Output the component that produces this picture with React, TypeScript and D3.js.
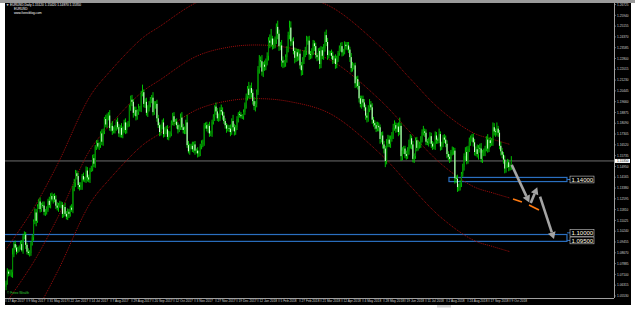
import React from 'react';
import * as d3 from 'd3';

const W = 635;
const H = 314;

// Daily closes, in pips above 1.0000 (EURUSD, 17 Apr 2017 -> 10 Oct 2018)
const firstOpen = 620;
const closes: number[] = [
  // Apr 2017
  645, 730, 715, 715, 725, 855, 930, 905, 875, 895,
  // May 2017
  905, 930, 885, 985, 998, 925, 875, 865, 865, 935, 980, 1095, 1160, 1100, 1205, 1240, 1185, 1215, 1210, 1165, 1165, 1180, 1245,
  // Jun 2017
  1215, 1280, 1255, 1280, 1255, 1210, 1195, 1210, 1210, 1215, 1150, 1200, 1150, 1130, 1165, 1150, 1195, 1180, 1335, 1375, 1445, 1425,
  // Jul 2017
  1360, 1345, 1350, 1425, 1400, 1400, 1465, 1415, 1400, 1470, 1480, 1555, 1515, 1635, 1665, 1640, 1650, 1735, 1675, 1750, 1840,
  // Aug 2017
  1800, 1860, 1865, 1775, 1790, 1755, 1760, 1775, 1820, 1780, 1735, 1775, 1725, 1760, 1815, 1760, 1800, 1800, 1925, 1980, 1965, 1885, 1905,
  // Sep 2017
  1860, 1890, 1920, 1920, 2025, 2035, 1950, 1965, 1885, 1920, 1945, 1985, 1995, 1890, 1945, 1950, 1845, 1795, 1745, 1785, 1815,
  // Oct 2017
  1730, 1760, 1765, 1710, 1735, 1735, 1810, 1860, 1820, 1820, 1795, 1765, 1785, 1850, 1780, 1760, 1765, 1815, 1650, 1605, 1640, 1645,
  // Nov 2017
  1620, 1655, 1610, 1610, 1590, 1590, 1645, 1665, 1665, 1795, 1795, 1770, 1790, 1735, 1735, 1820, 1855, 1930, 1895, 1845, 1845, 1905,
  // Dec 2017
  1895, 1865, 1825, 1795, 1770, 1775, 1770, 1745, 1825, 1780, 1750, 1780, 1840, 1875, 1870, 1860, 1860, 1890, 1945, 2005,
  // Jan 2018
  2060, 2015, 2065, 2030, 1970, 1935, 1950, 2035, 2200, 2265, 2260, 2185, 2235, 2220, 2260, 2300, 2410, 2395, 2425, 2380, 2395, 2415,
  // Feb 2018
  2510, 2460, 2370, 2375, 2265, 2250, 2250, 2290, 2350, 2450, 2505, 2405, 2405, 2335, 2285, 2325, 2295, 2315, 2230, 2195,
  // Mar 2018
  2270, 2315, 2335, 2405, 2410, 2310, 2305, 2335, 2390, 2370, 2305, 2290, 2335, 2240, 2340, 2300, 2355, 2450, 2400, 2305, 2320, 2320,
  // Apr 2018
  2300, 2270, 2280, 2240, 2280, 2320, 2355, 2370, 2325, 2330, 2380, 2370, 2375, 2345, 2290, 2210, 2230, 2230, 2100, 2130, 2080,
  // May 2018
  1990, 1950, 1985, 1960, 1925, 1865, 1850, 1915, 1945, 1925, 1835, 1810, 1795, 1770, 1790, 1780, 1695, 1720, 1655, 1625, 1535, 1665, 1690,
  // Jun 2018
  1660, 1695, 1720, 1775, 1795, 1770, 1785, 1745, 1790, 1570, 1610, 1625, 1585, 1570, 1605, 1655, 1700, 1655, 1550, 1570, 1685,
  // Jul 2018
  1630, 1655, 1655, 1690, 1745, 1750, 1740, 1675, 1670, 1685, 1715, 1660, 1640, 1640, 1720, 1690, 1685, 1730, 1640, 1655, 1705, 1690,
  // Aug 2018
  1660, 1585, 1565, 1550, 1600, 1610, 1610, 1410, 1405, 1345, 1345, 1375, 1440, 1490, 1570, 1600, 1535, 1625, 1675, 1700, 1705, 1670, 1600,
  // Sep 2018
  1620, 1585, 1630, 1625, 1550, 1595, 1600, 1625, 1690, 1625, 1685, 1665, 1670, 1780, 1750, 1745, 1770, 1740, 1645, 1605,
  // Oct 2018
  1580, 1545, 1480, 1510, 1525, 1490, 1490, 1535,
];

// upper wick beyond the body, pips
const hiWick: number[] = [
  20, 25, 15, 30, 20, 45, 15, 25, 20, 15,
  15, 25, 30, 20, 25, 20, 15, 25, 20, 15, 20, 15, 30, 25, 15, 20, 30, 15, 25, 30, 20, 25, 15,
  30, 20, 25, 15, 20, 30, 25, 20, 35, 25, 20, 15, 30, 20, 25, 20, 15, 25, 20, 30, 25, 20,
  25, 20, 30, 15, 25, 20, 30, 25, 20, 15, 20, 25, 30, 15, 20, 25, 20, 15, 30, 20, 15,
  30, 20, 25, 40, 20, 35, 25, 20, 15, 30, 25, 20, 35, 25, 20, 30, 15, 25, 20, 30, 35, 20, 25,
  25, 20, 30, 15, 20, 55, 20, 25, 30, 20, 25, 15, 20, 40, 25, 20, 30, 25, 20, 15, 20,
  30, 20, 25, 30, 20, 15, 20, 25, 30, 20, 25, 20, 15, 30, 40, 25, 20, 20, 55, 30, 20, 15,
  30, 20, 25, 15, 25, 20, 15, 20, 25, 15, 20, 25, 15, 30, 20, 15, 20, 10, 30, 25, 35, 20,
  40, 30, 25, 20, 15, 25, 20, 30, 20, 45, 25, 15, 20, 15, 25, 20, 15, 20, 15, 20,
  20, 50, 20, 40, 25, 30, 20, 20, 25, 40, 30, 45, 20, 30, 20, 25, 25, 45, 70, 20, 30, 25,
  25, 45, 30, 25, 40, 30, 20, 20, 20, 25, 50, 45, 20, 30, 25, 30, 25, 35, 30, 25,
  20, 25, 30, 40, 30, 35, 25, 20, 25, 20, 25, 15, 20, 25, 30, 25, 30, 25, 40, 30, 20, 15,
  25, 30, 20, 30, 20, 15, 20, 25, 30, 20, 25, 20, 25, 25, 20, 30, 25, 15, 20, 20, 25,
  30, 20, 25, 25, 25, 20, 20, 25, 40, 25, 30, 20, 20, 25, 30, 25, 20, 25, 30, 25, 20, 30, 35,
  30, 25, 25, 30, 35, 20, 25, 30, 60, 20, 25, 20, 20, 25, 30, 35, 30, 20, 25, 20, 20,
  25, 30, 20, 25, 20, 40, 20, 25, 20, 20, 30, 25, 20, 30, 30, 25, 15, 40, 20, 20, 20, 25,
  30, 25, 20, 20, 15, 30, 25, 20, 20, 30, 25, 20, 15, 25, 20, 35, 40, 20, 30, 20, 25, 30, 25,
  20, 35, 20, 30, 40, 20, 25, 20, 25, 40, 20, 25, 30, 35, 30, 20, 45, 20, 20, 30,
  25, 20, 30, 20, 25, 20, 20, 35,
];

// lower wick beyond the body, pips
const loWick: number[] = [
  25, 10, 20, 15, 25, 40, 20, 15, 20, 10,
  20, 15, 10, 25, 20, 30, 20, 15, 25, 20, 15, 25, 20, 40, 15, 20, 25, 20, 15, 25, 30, 20, 15,
  20, 25, 15, 30, 20, 25, 20, 30, 15, 20, 30, 25, 15, 20, 25, 30, 20, 15, 25, 20, 30, 25,
  30, 25, 20, 25, 15, 20, 25, 30, 20, 25, 15, 20, 25, 30, 20, 15, 25, 20, 25, 30, 20,
  20, 25, 30, 20, 25, 30, 20, 25, 20, 15, 25, 30, 20, 25, 20, 30, 25, 20, 15, 25, 30, 35, 20,
  30, 25, 20, 25, 30, 20, 25, 30, 20, 30, 25, 20, 30, 25, 20, 30, 25, 20, 30, 25, 20,
  25, 20, 30, 20, 25, 30, 20, 15, 30, 20, 25, 30, 20, 25, 20, 25, 30, 35, 20, 15, 25, 20,
  20, 25, 30, 20, 30, 25, 20, 25, 30, 20, 25, 20, 30, 25, 20, 25, 20, 30, 25, 20, 25, 20,
  25, 30, 20, 25, 30, 20, 25, 30, 20, 25, 30, 25, 20, 25, 20, 15, 20, 25, 20, 30,
  30, 25, 30, 35, 25, 30, 40, 25, 20, 30, 45, 30, 40, 30, 25, 30, 35, 40, 30, 35, 30, 40,
  30, 40, 35, 30, 45, 40, 35, 30, 40, 25, 30, 35, 30, 25, 40, 30, 35, 30, 25, 40,
  35, 30, 25, 30, 25, 40, 30, 25, 30, 35, 25, 30, 25, 35, 30, 25, 30, 25, 30, 35, 25, 20,
  25, 30, 25, 35, 30, 25, 20, 25, 30, 25, 20, 25, 30, 25, 35, 30, 25, 30, 35, 30, 25,
  30, 25, 35, 30, 25, 30, 35, 30, 25, 20, 30, 25, 30, 25, 20, 30, 35, 25, 30, 35, 45, 25, 30,
  25, 30, 20, 25, 20, 30, 25, 30, 20, 35, 30, 25, 30, 25, 20, 25, 30, 35, 25, 30, 20,
  25, 20, 30, 25, 20, 25, 30, 25, 20, 30, 25, 30, 25, 20, 25, 30, 25, 20, 30, 25, 20, 25,
  25, 30, 25, 30, 20, 25, 30, 40, 30, 35, 30, 25, 30, 20, 25, 30, 25, 20, 25, 30, 25, 30, 25,
  30, 25, 40, 30, 25, 30, 25, 30, 20, 30, 25, 30, 20, 25, 30, 35, 25, 30, 25, 30,
  25, 30, 35, 30, 25, 30, 25, 20,
];

// date axis labels, one every 16 bars
const dateLabels = [
  '17 Apr 2017', '9 May 2017', '31 May 2017', '22 Jun 2017', '14 Jul 2017', '7 Aug 2017',
  '29 Aug 2017', '20 Sep 2017', '12 Oct 2017', '3 Nov 2017', '27 Nov 2017', '19 Dec 2017',
  '12 Jan 2018', '5 Feb 2018', '27 Feb 2018', '21 Mar 2018', '12 Apr 2018', '4 May 2018',
  '28 May 2018', '19 Jun 2018', '11 Jul 2018', '2 Aug 2018', '24 Aug 2018', '17 Sep 2018', '9 Oct 2018',
];
const dateStep = 16;

// price axis labels
const priceTicks = [
  1.0553, 1.06315, 1.071, 1.07885, 1.0867, 1.09455, 1.1024, 1.11025, 1.1181, 1.12595,
  1.1338, 1.14165, 1.1495, 1.15735, 1.1652, 1.17305, 1.1809, 1.18875, 1.1966, 1.20445,
  1.2123, 1.22015, 1.228, 1.23585, 1.2437, 1.25155, 1.2594, 1.26725,
];

// regression channel (dotted red): [bar index, price]
const channelMid: [number, number][] = [
  [0, 1.0502], [20.6, 1.0793], [39.6, 1.1127], [64, 1.1615], [79.2, 1.1796], [103.6, 1.2036],
  [117.3, 1.2124], [145.5, 1.2298], [170.7, 1.2364], [193.5, 1.2378], [216.4, 1.2356],
  [246.9, 1.2269], [285, 1.1978], [307.8, 1.1745], [330.7, 1.152], [355.8, 1.1350],
  [371, 1.1302], [384, 1.1265],
];
const channelUpper: [number, number][] = [
  [0, 1.0892], [20.6, 1.1183], [39.6, 1.1517], [64, 1.2005], [79.2, 1.2186], [103.6, 1.2426],
  [117.3, 1.2514], [145.5, 1.2688], [170.7, 1.2754], [193.5, 1.2768], [216.4, 1.2746],
  [246.9, 1.2659], [285, 1.2368], [307.8, 1.2135], [330.7, 1.191], [355.8, 1.1740],
  [371, 1.1692], [384, 1.1655],
];
const channelLower: [number, number][] = [
  [0, 1.0112], [20.6, 1.0403], [39.6, 1.0737], [64, 1.1225], [79.2, 1.1406], [103.6, 1.1646],
  [117.3, 1.1734], [145.5, 1.1908], [170.7, 1.1974], [193.5, 1.1988], [216.4, 1.1966],
  [246.9, 1.1879], [285, 1.1588], [307.8, 1.1355], [330.7, 1.113], [355.8, 1.0960],
  [371, 1.0912], [384, 1.0875],
];

// drawn levels and annotations: [bar index, price]
const zone114: [number, number, number, number] = [337.5, 1.1415, 427.4, 1.1385];
const zone110: [number, number, number, number] = [-10, 1.1, 427.4, 1.095];
const levelLabels = [
  { text: '1.14000', price: 1.14 },
  { text: '1.10000', price: 1.1012 },
  { text: '1.09500', price: 1.0957 },
];
const orangeSegments: [number, number][][] = [
  [[386.3, 1.1258], [393.1, 1.1236]],
  [[398.5, 1.1215], [406.1, 1.1178]],
];
const arrows: [number, number][][] = [
  [[385.3, 1.1506], [398.7, 1.1233]],
  [[399.8, 1.1229], [404.8, 1.1343]],
  [[406.9, 1.1275], [417.5, 1.0967]],
];

const bidPrice = 1.1535;
const headerLines = ['EURUSD,Daily  1.15120 1.15420 1.14870 1.15350', 'EURUSD', 'www.forexblog.com'];
const footerText = '© Forex Wealth';

const PL = 5, PR = 614, PT = 3, PB = 298;

export default function App() {
  const x = d3.scaleLinear().domain([0, 384]).range([6, 510]);
  const y = d3.scaleLinear().domain([1.10, 1.14]).range([234.5, 179.5]);
  const px = (v: number) => 1 + v / 10000;
  const pip = 0.0001;

  const candles = closes.map((c, i) => {
    const o = i === 0 ? px(firstOpen) : px(closes[i - 1]);
    const cl = px(c);
    const h = Math.max(o, cl) + (hiWick[i] ?? 20) * pip;
    const l = Math.min(o, cl) - (loWick[i] ?? 20) * pip;
    return { i, o, c: cl, h, l };
  });

  const curve = d3
    .line<[number, number]>()
    .x((d) => x(d[0]))
    .y((d) => y(d[1]))
    .curve(d3.curveCatmullRom.alpha(0.5));
  const straight = d3
    .line<[number, number]>()
    .x((d) => x(d[0]))
    .y((d) => y(d[1]));

  const arrowHead = (a: [number, number], b: [number, number]) => {
    const x1 = x(a[0]), y1 = y(a[1]), x2 = x(b[0]), y2 = y(b[1]);
    const ang = Math.atan2(y2 - y1, x2 - x1);
    const len = 7, wd = 4;
    const bx = x2 - len * Math.cos(ang), by = y2 - len * Math.sin(ang);
    const nx = -Math.sin(ang), ny = Math.cos(ang);
    return {
      shaft: `M${x1},${y1}L${bx},${by}`,
      head: `M${x2},${y2}L${bx + nx * wd},${by + ny * wd}L${bx - nx * wd},${by - ny * wd}Z`,
    };
  };

  const font = 'Liberation Sans, Arial, sans-serif';
  const small = 3.2;

  return (
    <div style={{ position: 'fixed', left: 0, top: 0 }}>
      <svg width={W} height={H} style={{ display: 'block' }}>
        <defs>
          <clipPath id="plot">
            <rect x={PL} y={PT} width={PR - PL} height={PB - PT} />
          </clipPath>
        </defs>
        <rect x={0} y={0} width={W} height={H} fill="#ffffff" />
        <rect x={0} y={0} width={W} height={3} fill="#9a9a9a" />
        <rect x={PL} y={PT} width={631 - PL} height={305 - PT} fill="#000000" />
        <rect x={437} y={305} width={14} height={2.5} fill="#d4d4d4" />

        <g clipPath="url(#plot)">
          <rect
            x={x(zone110[0])}
            y={y(zone110[1])}
            width={x(zone110[2]) - x(zone110[0])}
            height={y(zone110[3]) - y(zone110[1])}
            fill="none"
            stroke="#2a6fc0"
            strokeWidth={1.2}
          />
          <rect
            x={x(zone114[0])}
            y={y(zone114[1])}
            width={x(zone114[2]) - x(zone114[0])}
            height={y(zone114[3]) - y(zone114[1])}
            fill="none"
            stroke="#2a6fc0"
            strokeWidth={1.2}
          />
          <line x1={PL} x2={PR} y1={y(bidPrice)} y2={y(bidPrice)} stroke="#6e6e6e" strokeWidth={1} />

          {[channelUpper, channelMid, channelLower].map((b, k) => (
            <path key={k} d={curve(b) || ''} fill="none" stroke="#a00c0c" strokeWidth={1} strokeDasharray="1,1" />
          ))}

          {candles.map((d) => {
            const bull = d.c >= d.o;
            const top = y(Math.max(d.o, d.c));
            const bot = y(Math.min(d.o, d.c));
            return (
              <g key={d.i}>
                <line x1={x(d.i)} x2={x(d.i)} y1={y(d.h)} y2={y(d.l)} stroke="#00d800" strokeWidth={0.9} />
                <rect
                  x={x(d.i) - 0.55}
                  y={top}
                  width={1.1}
                  height={Math.max(0.6, bot - top)}
                  fill={bull ? '#008800' : '#d0ffd0'}
                />
              </g>
            );
          })}

          {orangeSegments.map((s, k) => (
            <path key={k} d={straight(s) || ''} stroke="#ff7a10" strokeWidth={1.6} fill="none" />
          ))}

          {arrows.map((a, k) => {
            const ah = arrowHead(a[0], a[1]);
            return (
              <g key={k}>
                <path d={ah.shaft} stroke="#a4a4a4" strokeWidth={2.6} fill="none" />
                <path d={ah.head} fill="#a4a4a4" />
              </g>
            );
          })}
        </g>

        {levelLabels.map((lb, k) => {
          const yy = y(lb.price);
          return (
            <g key={k}>
              <line x1={x(427.4)} x2={570} y1={yy} y2={yy} stroke="#2a6fc0" strokeWidth={1} />
              <rect x={570} y={yy - 3.4} width={24} height={6.8} fill="#000" stroke="#c8c8c8" strokeWidth={0.6} />
              <text x={571.5} y={yy + 2.2} fontSize={6} fill="#fff8e0" fontFamily={font}>
                {lb.text}
              </text>
            </g>
          );
        })}

        <line x1={PR + 0.5} x2={PR + 0.5} y1={PT} y2={PB} stroke="#a0a0a0" strokeWidth={1} />
        <line x1={PL} x2={PR} y1={PB + 0.5} y2={PB + 0.5} stroke="#a0a0a0" strokeWidth={1} />
        {priceTicks.map((p, k) => (
          <g key={k}>
            <line x1={PR} x2={PR + 2} y1={y(p)} y2={y(p)} stroke="#a0a0a0" strokeWidth={0.6} />
            <text x={PR + 3} y={y(p) + 1.2} fontSize={small} fill="#d0d0d0" fontFamily={font}>
              {p.toFixed(5)}
            </text>
          </g>
        ))}
        <rect x={PR + 1} y={y(bidPrice) - 2} width={15} height={4} fill="#ffffff" />
        <text x={PR + 3} y={y(bidPrice) + 1.2} fontSize={small} fill="#000" fontFamily={font}>
          {bidPrice.toFixed(5)}
        </text>
        {dateLabels.map((t, k) => {
          const xx = x(k * dateStep);
          return (
            <g key={k}>
              <line x1={xx} x2={xx} y1={PB} y2={PB + 4} stroke="#a0a0a0" strokeWidth={0.6} />
              <text x={xx + 1.5} y={PB + 4} fontSize={small} fill="#d0d0d0" fontFamily={font}>
                {t}
              </text>
            </g>
          );
        })}

        <text x={6} y={6} fontSize={small} fill="#ffffff" fontFamily={font}>
          {'▼ ' + headerLines[0]}
        </text>
        <text x={14} y={10} fontSize={small} fill="#ffffff" fontFamily={font}>
          {headerLines[1]}
        </text>
        <text x={14} y={14} fontSize={small} fill="#ffffff" fontFamily={font}>
          {headerLines[2]}
        </text>
        <text x={7} y={294} fontSize={small} fill="#30d030" fontFamily={font}>
          {footerText}
        </text>
      </svg>
    </div>
  );
}
